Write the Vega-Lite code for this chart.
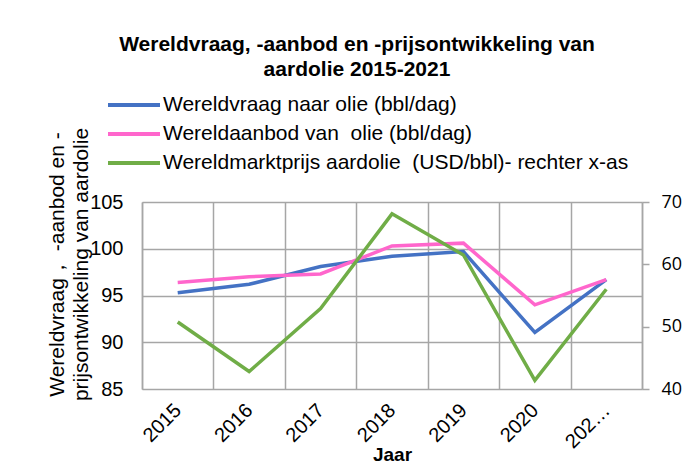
{
  "$schema": "https://vega.github.io/schema/vega-lite/v6.json",
  "autosize": "none",
  "width": 500,
  "height": 187,
  "padding": {"left": 142, "top": 202, "right": 58, "bottom": 74},
  "background": "white",
  "config": {
    "view": {"stroke": null},
    "font": "Liberation Sans"
  },
  "title": {
    "text": ["Wereldvraag, -aanbod en -prijsontwikkeling van", "aardolie 2015-2021"],
    "font": "Liberation Sans",
    "fontSize": 21,
    "fontWeight": "bold",
    "color": "#000000",
    "anchor": "middle",
    "frame": "group",
    "dx": -35,
    "lineHeight": 25,
    "offset": 10
  },
  "data": {
    "values": [
      {"jaar": "2015", "reeks": "Wereldvraag naar olie (bbl/dag)", "waarde": 95.3},
      {"jaar": "2016", "reeks": "Wereldvraag naar olie (bbl/dag)", "waarde": 96.2},
      {"jaar": "2017", "reeks": "Wereldvraag naar olie (bbl/dag)", "waarde": 98.1},
      {"jaar": "2018", "reeks": "Wereldvraag naar olie (bbl/dag)", "waarde": 99.2},
      {"jaar": "2019", "reeks": "Wereldvraag naar olie (bbl/dag)", "waarde": 99.7},
      {"jaar": "2020", "reeks": "Wereldvraag naar olie (bbl/dag)", "waarde": 91.05},
      {"jaar": "2021", "reeks": "Wereldvraag naar olie (bbl/dag)", "waarde": 96.7},
      {"jaar": "2015", "reeks": "Wereldaanbod van  olie (bbl/dag)", "waarde": 96.4},
      {"jaar": "2016", "reeks": "Wereldaanbod van  olie (bbl/dag)", "waarde": 97.0},
      {"jaar": "2017", "reeks": "Wereldaanbod van  olie (bbl/dag)", "waarde": 97.3},
      {"jaar": "2018", "reeks": "Wereldaanbod van  olie (bbl/dag)", "waarde": 100.3},
      {"jaar": "2019", "reeks": "Wereldaanbod van  olie (bbl/dag)", "waarde": 100.6},
      {"jaar": "2020", "reeks": "Wereldaanbod van  olie (bbl/dag)", "waarde": 94.0},
      {"jaar": "2021", "reeks": "Wereldaanbod van  olie (bbl/dag)", "waarde": 96.7},
      {"jaar": "2015", "reeks": "Wereldmarktprijs aardolie  (USD/bbl)- rechter x-as", "waarde": 50.75},
      {"jaar": "2016", "reeks": "Wereldmarktprijs aardolie  (USD/bbl)- rechter x-as", "waarde": 42.8},
      {"jaar": "2017", "reeks": "Wereldmarktprijs aardolie  (USD/bbl)- rechter x-as", "waarde": 52.9},
      {"jaar": "2018", "reeks": "Wereldmarktprijs aardolie  (USD/bbl)- rechter x-as", "waarde": 68.1},
      {"jaar": "2019", "reeks": "Wereldmarktprijs aardolie  (USD/bbl)- rechter x-as", "waarde": 61.5},
      {"jaar": "2020", "reeks": "Wereldmarktprijs aardolie  (USD/bbl)- rechter x-as", "waarde": 41.4},
      {"jaar": "2021", "reeks": "Wereldmarktprijs aardolie  (USD/bbl)- rechter x-as", "waarde": 56.0}
    ]
  },
  "encoding": {
    "x": {
      "field": "jaar",
      "type": "ordinal",
      "scale": {"type": "band", "paddingInner": 0, "paddingOuter": 0},
      "axis": {
        "title": "Jaar",
        "titleFont": "Liberation Sans",
        "titleFontSize": 19,
        "titleFontWeight": "bold",
        "titleColor": "#000000",
        "titleBaseline": "alphabetic",
        "titleY": 71,
        "grid": true,
        "gridColor": "#a6a6a6",
        "gridWidth": 1.5,
        "tickBand": "extent",
        "ticks": false,
        "tickSize": 0,
        "domain": false,
        "labelAngle": -45,
        "labelAlign": "right",
        "labelBaseline": "middle",
        "labelPadding": 18,
        "labelFont": "Liberation Sans",
        "labelFontSize": 20,
        "labelColor": "#000000",
        "labelExpr": "datum.value == '2021' ? '202…' : datum.label"
      }
    },
    "color": {
      "field": "reeks",
      "type": "nominal",
      "scale": {
        "domain": ["Wereldvraag naar olie (bbl/dag)", "Wereldaanbod van  olie (bbl/dag)", "Wereldmarktprijs aardolie  (USD/bbl)- rechter x-as"],
        "range": ["#4472C4", "#FF66CC", "#70AD47"]
      },
      "legend": {
        "title": null,
        "orient": "none",
        "legendX": -23,
        "legendY": -112,
        "symbolType": "M-2,0H2",
        "symbolSize": 676,
        "symbolStrokeWidth": 4,
        "rowPadding": 4,
        "labelOffset": 14,
        "labelFont": "Liberation Sans",
        "labelFontSize": 21,
        "labelColor": "#000000",
        "labelLimit": 700,
        "labelExpr": "replace(datum.label, '  ', ' \u00a0')",
        "padding": 0
      }
    }
  },
  "layer": [
    {
      "transform": [{"filter": "datum.reeks != 'Wereldmarktprijs aardolie  (USD/bbl)- rechter x-as'"}],
      "mark": {"type": "line", "strokeWidth": 3.5},
      "encoding": {
        "y": {
          "field": "waarde",
          "type": "quantitative",
          "scale": {"domain": [85, 105], "nice": false, "zero": false},
          "axis": {
            "values": [85, 90, 95, 100, 105],
            "grid": true,
            "gridColor": "#a6a6a6",
            "gridWidth": 1.5,
            "ticks": false,
            "tickSize": 0,
            "domain": true,
            "domainColor": "#a6a6a6",
            "domainWidth": 1.5,
            "labelPadding": 19,
            "labelFont": "Liberation Sans",
            "labelFontSize": 20,
            "labelColor": "#000000",
            "title": ["Wereldvraag， -aanbod en -", "prijsontwikkeling van aardolie"],
            "titleFont": "Liberation Sans",
            "titleFontSize": 21,
            "titleFontWeight": "normal",
            "titleColor": "#000000",
            "titleAngle": -90,
            "titleAlign": "center",
            "titleBaseline": "alphabetic",
            "titleLineHeight": 24,
            "titleX": -79,
            "titleY": 62
          }
        }
      }
    },
    {
      "transform": [{"filter": "datum.reeks == 'Wereldmarktprijs aardolie  (USD/bbl)- rechter x-as'"}],
      "mark": {"type": "line", "strokeWidth": 3.5},
      "encoding": {
        "y": {
          "field": "waarde",
          "type": "quantitative",
          "scale": {"domain": [40, 70], "nice": false, "zero": false},
          "axis": {
            "orient": "right",
            "values": [40, 50, 60, 70],
            "grid": false,
            "ticks": true,
            "tickSize": 7,
            "tickColor": "#a6a6a6",
            "tickWidth": 1.5,
            "domain": true,
            "domainColor": "#a6a6a6",
            "domainWidth": 1.5,
            "labelPadding": 12,
            "labelFont": "Open Sans",
            "labelFontSize": 18,
            "labelColor": "#000000",
            "title": null
          }
        }
      }
    }
  ],
  "resolve": {"scale": {"y": "independent"}}
}
